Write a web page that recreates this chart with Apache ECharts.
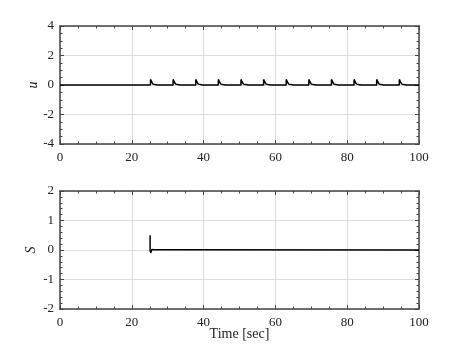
<!DOCTYPE html>
<html>
<head>
<meta charset="utf-8">
<script src="https://cdn.jsdelivr.net/npm/echarts@6/dist/echarts.min.js"></script>
<style>
  html, body { margin: 0; padding: 0; background: #fff; }
  #chart { width: 463px; height: 348px; }
</style>
</head>
<body>
<div id="chart"></div>
<script>
// values
var uSpikeTimes = [25.2, 31.5, 37.8, 44.1, 50.4, 56.7, 63.0, 69.3, 75.6, 81.9, 88.2, 94.5];
var uShapeDt  = [0, 0.02, 0.3, 0.7, 1.2, 2.0];
var uShapeVal = [0, 0.38, 0.22, 0.06, -0.02, 0];
var sPoints = [[25.1, 0.5], [25.1, 0.0], [25.25, -0.1], [25.6, 0.02], [26.5, 0.01], [30, 0.01], [100, 0]];

var uPoints = [[0, 0]];
uSpikeTimes.forEach(function (t0) {
  for (var i = 0; i < uShapeDt.length; i++) {
    uPoints.push([t0 + uShapeDt[i], uShapeVal[i]]);
  }
});
uPoints.push([100, 0]);

var font = 'Liberation Serif';
var frame = '#444';

function xAx(grid, pos, labels, name) {
  return {
    type: 'value', gridIndex: grid, position: pos, min: 0, max: 100, interval: 20,
    axisLine: { show: true, onZero: false, lineStyle: { color: frame, width: 1.5 } },
    axisTick: { show: true, inside: true, length: 4, lineStyle: { color: frame } },
    minorTick: { show: true, splitNumber: 4, length: 2.5, lineStyle: { color: frame } },
    axisLabel: { show: labels, color: '#222', fontFamily: font, fontSize: 13, margin: 7 },
    splitLine: { show: pos === 'bottom', lineStyle: { color: '#ddd', width: 1 } },
    name: name || '', nameLocation: 'middle', nameGap: 18, nameMoveOverlap: false,
    nameTextStyle: { fontFamily: font, fontSize: 14, color: '#222' }
  };
}
function yAx(grid, pos, labels, min, max, interval, minor, name, gap) {
  return {
    type: 'value', gridIndex: grid, position: pos, min: min, max: max, interval: interval,
    axisLine: { show: true, onZero: false, lineStyle: { color: frame, width: 1.5 } },
    axisTick: { show: true, inside: true, length: 4, lineStyle: { color: frame } },
    minorTick: { show: true, splitNumber: minor, length: 2.5, lineStyle: { color: frame } },
    axisLabel: { show: labels, color: '#222', fontFamily: font, fontSize: 13, margin: 6 },
    splitLine: { show: pos === 'left', lineStyle: { color: '#ddd', width: 1 } },
    name: name || '', nameLocation: 'middle', nameGap: gap || 0, nameRotate: 90,
    nameMoveOverlap: false,
    nameTextStyle: { fontFamily: font, fontSize: 14, fontStyle: 'italic', color: '#222' }
  };
}

var chart = echarts.init(document.getElementById('chart'));
chart.setOption({
  animation: false,
  backgroundColor: '#fff',
  grid: [
    { left: 60, top: 26, width: 359, height: 118 },
    { left: 60, top: 191, width: 359, height: 118 }
  ],
  xAxis: [
    xAx(0, 'bottom', true),
    xAx(0, 'top', false),
    xAx(1, 'bottom', true, 'Time [sec]'),
    xAx(1, 'top', false)
  ],
  yAxis: [
    yAx(0, 'left', true, -4, 4, 2, 4, 'u', 20),
    yAx(0, 'right', false, -4, 4, 2, 4),
    yAx(1, 'left', true, -2, 2, 1, 5, 'S', 22),
    yAx(1, 'right', false, -2, 2, 1, 5)
  ],
  series: [
    {
      type: 'line', xAxisIndex: 0, yAxisIndex: 0, data: uPoints,
      showSymbol: false, lineStyle: { color: '#000', width: 1.5 }
    },
    {
      type: 'line', xAxisIndex: 2, yAxisIndex: 2, data: sPoints,
      showSymbol: false, lineStyle: { color: '#000', width: 1.5 }
    }
  ]
});
</script>
</body>
</html>
